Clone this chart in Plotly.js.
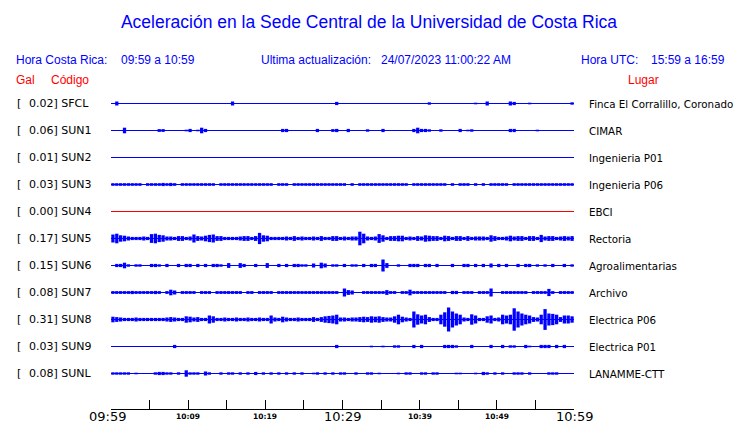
<!DOCTYPE html>
<html><head><meta charset="utf-8">
<script src="https://cdn.plot.ly/plotly-3.0.1.min.js"></script>
<style>html,body{margin:0;padding:0;background:#fff}#chart{width:740px;height:423px}</style>
</head><body><div id="chart"></div>
<script>
// ---------------- DATA ----------------
const titleText = 'Aceleración en la Sede Central de la Universidad de Costa Rica';
const localRange = '09:59 a 10:59';
const utcRange = '15:59 a 16:59';
const lastUpdate = '24/07/2023 11:00:22 AM';
const stations = ['SFCL','SUN1','SUN2','SUN3','SUN4','SUN5','SUN6','SUN7','SUN8','SUN9','SUNL'];
const peakGal = [0.02,0.06,0.01,0.03,0.00,0.17,0.15,0.08,0.31,0.03,0.08];
const places = ['Finca El Corralillo, Coronado','CIMAR','Ingenieria P01','Ingenieria P06','EBCI','Rectoria','Agroalimentarias','Archivo','Electrica P06','Electrica P01','LANAMME-CTT'];
const inactiveStations = ['SUN4'];
const windowMinutes = 60;        // 09:59 -> 10:59
const binMinutes = 0.5;          // envelope window (30 s)
const tickMinutes = [0,5,10,15,20,25,30,35,40,45,50,55,60];
const labelMinutes = [0,10,20,30,40,50,60];
const tickLabels = ['09:59','10:09','10:19','10:29','10:39','10:49','10:59'];

// amplitude envelope (half peak-to-peak, Gal) for each 30 s window
const envSFCL = [
0,0.05,0,0,0,0,0,0,0,0, 0,0,0,0,0,0,0,0,0,0, 0,0,0,0,0,0,0,0,0,0, 0,0.05,0,0,0,0,0,0,0,0,
0,0,0,0,0,0,0,0,0,0, 0,0,0,0,0,0,0,0,0.04,0, 0,0,0,0,0,0,0,0,0,0, 0,0,0,0,0,0,0,0,0,0,
0,0,0.03,0,0,0,0,0,0,0, 0,0,0,0,0.02,0,0,0.05,0,0, 0,0,0,0.05,0.04,0,0,0,0.02,0, 0,0,0,0,0,0,0,0,0,0.03];
const envSUN1 = [
0,0,0,0.07,0,0,0,0,0,0, 0,0,0.035,0.035,0,0,0,0,0,0.02, 0.04,0,0.02,0.07,0.04,0,0,0,0,0, 0,0,0,0,0,0,0,0,0,0,
0,0,0,0,0.04,0.04,0,0,0,0, 0,0,0,0.04,0,0,0,0.035,0.04,0, 0,0.04,0,0,0,0,0.03,0,0,0, 0.04,0,0,0,0,0,0,0,0.04,0.07,
0.04,0.04,0.03,0,0,0.03,0,0,0,0, 0.04,0,0.02,0.03,0,0,0,0,0,0, 0,0,0,0.04,0.04,0,0,0,0,0, 0.02,0,0,0,0,0,0,0,0,0];
const envSUN2 = [
0,0,0,0,0,0,0,0,0,0, 0,0,0,0,0,0,0,0,0,0, 0,0,0,0,0,0,0,0,0,0, 0,0,0,0,0,0,0,0,0,0,
0,0,0,0,0,0,0,0,0,0, 0,0,0,0,0,0,0,0,0,0, 0,0,0,0,0,0,0,0,0,0, 0,0,0,0,0,0,0,0,0,0,
0,0,0,0,0,0,0,0,0,0, 0,0,0,0,0,0,0,0,0,0, 0,0,0,0,0,0,0,0,0,0, 0,0,0,0,0,0,0,0,0,0];
const envSUN3 = [
.033,.033,.033,.033,.033,.033,.033,.033,0,.033, .033,.033,.033,.04,.033,.04,.033,0,.033,.033,
.033,.033,.033,.033,.033,.033,.033,0,.033,.033, .033,.033,.033,.033,.033,.033,.033,.033,.033,.033,
.033,.033,0,.033,.033,.033,0,.033,.033,.033, .033,.033,.033,.033,.033,.033,.033,.033,.033,.033,
.033,0,.033,0,.033,.033,.033,.033,.033,.033, .033,.033,.033,.033,.033,.033,.033,0,.033,.033,
.033,.033,.033,.033,.033,.033,.033,0,.033,0, .033,.033,.033,0,.033,0,.033,0,.033,.033,
.033,.033,.033,0,.033,.033,.033,.033,.033,.033, .033,.033,.033,.033,.033,.033,.033,.033,.033,.033];
const envSUN4 = [
0,0,0,0,0,0,0,0,0,0, 0,0,0,0,0,0,0,0,0,0, 0,0,0,0,0,0,0,0,0,0, 0,0,0,0,0,0,0,0,0,0,
0,0,0,0,0,0,0,0,0,0, 0,0,0,0,0,0,0,0,0,0, 0,0,0,0,0,0,0,0,0,0, 0,0,0,0,0,0,0,0,0,0,
0,0,0,0,0,0,0,0,0,0, 0,0,0,0,0,0,0,0,0,0, 0,0,0,0,0,0,0,0,0,0, 0,0,0,0,0,0,0,0,0,0];
const envSUN5 = [
.10,.12,.08,.07,.05,.04,.04,.04,.05,.04, .11,.12,.09,.08,.05,.05,.04,.06,.06,.04,
.05,.10,.06,.05,.07,.09,.10,.06,.06,.04, .04,.04,.04,.05,.06,.06,.04,.06,.14,.08,
.07,.04,.04,.04,.04,.05,.04,.06,.04,.05, .04,.04,.05,.04,.06,.04,.04,.06,.06,.04,
.05,.04,.05,.05,.17,.12,.05,.04,.05,.11, .08,.04,.06,.06,.07,.07,.04,.05,.04,.06,
.05,.08,.07,.06,.06,.04,.07,.06,.04,.06, .06,.04,.06,.04,.05,.05,.05,.04,.08,.06,
.04,.04,.05,.07,.05,.06,.06,.04,.06,.06, .04,.09,.05,.06,.06,.04,.05,.06,.05,.06];
const envSUN6 = [
0,.04,.04,.07,.03,0,.03,.03,0,0, .04,.04,.03,0,.04,0,0,.04,0,.04,
.04,0,.04,0,.04,0,.04,.04,.03,0, .06,0,0,.06,.04,0,0,.04,0,0,
.06,0,0,.04,0,.04,0,.04,.04,.03, .03,0,.05,0,.07,.05,0,.03,.03,0,
.04,0,.03,.03,0,.04,0,.04,.04,0, .15,.06,0,0,.03,0,0,.04,.04,.04,
0,.04,.04,0,.04,0,0,0,.04,0, 0,.04,.04,0,.04,0,.04,0,.05,0,
.04,0,.04,0,0,.04,0,.04,.04,0, .03,0,.03,0,.04,0,0,.04,0,.03];
const envSUN7 = [
.035,.035,.035,.035,.035,.04,.035,.035,.035,.035, .035,.04,.035,0,.035,.07,.05,0,.035,.035,
.035,.035,0,.035,.035,.035,0,.035,.035,.035, .035,.035,.035,.035,0,.035,.035,0,.035,.035,
.035,.035,0,.035,.035,.035,.035,.035,.035,.035, .035,.035,.035,.035,.035,.035,.035,.035,.035,0,
.10,.06,.05,0,0,.035,.035,.035,.035,.035, .035,.06,.035,.035,0,.035,.035,.07,.035,.035,
.035,.035,.035,.035,.035,.035,.035,0,.04,.04, 0,.035,.035,.035,0,.035,.035,.035,.10,0,
0,.035,.035,.035,.035,.035,.035,.035,0,.035, .035,.035,.035,.09,.035,0,.035,.035,.035,.035];
const envSUN8 = [
.07,.06,.05,.04,.04,.04,.05,.04,.04,.04, .04,.04,.04,.04,.05,.06,.05,.04,.04,.08,
.07,.05,.06,.04,.04,.10,.08,.04,.04,.05, .04,.04,.05,.04,.04,.05,.04,.04,.05,.04,
.04,.10,.05,.04,.07,.05,.04,.04,.05,.04, .04,.04,.06,.04,.06,.08,.09,.10,.12,.05,
.05,.04,.05,.05,.06,.07,.06,.08,.07,.08, .06,.05,.05,.08,.12,.07,.05,.04,.20,.13,
.10,.12,.06,.04,.04,.12,.18,.30,.20,.15, .12,.05,.04,.13,.10,.04,.04,.08,.10,.04,
.05,.12,.10,.12,.28,.20,.15,.12,.10,.06, .05,.12,.26,.15,.14,.12,.06,.10,.10,.08];
const envSUN9 = [
0,0,0,0,0,0,0,0,0,0, 0,0,0,0,0,0,.04,0,0,0, 0,0,0,0,0,0,0,0,0,0, 0,0,0,0,0,0,0,0,0,0,
0,0,0,0,0,0,0,0,0,0, 0,0,0,0,0,0,0,0,.04,0, 0,0,0,0,0,0,0,.02,0,0, .02,0,0,.03,.03,0,0,0,.04,0,
.04,0,0,0,0,0,.04,.04,.04,.03, 0,0,0,.04,0,0,0,0,.04,0, 0,.04,0,.03,.03,0,0,.04,.02,0, 0,.04,.04,.04,0,.04,0,.04,0,0];
const envSUNL = [
.03,.03,.03,.03,.03,0,.02,0,0,0, 0,.03,.04,.04,.03,.03,0,.03,0,.08,
.03,.03,.03,0,.05,.03,0,0,.03,0, .03,.03,0,.03,0,.03,0,.04,0,.03,
0,.03,0,.03,0,.03,0,.03,0,.03, 0,0,.02,.03,0,.03,0,.03,0,.03,
.03,0,0,.03,0,0,.03,.03,0,.02, 0,0,0,0,.02,0,.03,.03,0,0,
.03,.03,0,.03,.03,0,0,0,0,.02, .02,0,0,0,.02,0,.04,.03,0,.03,
0,.03,0,0,.03,.03,.03,0,.03,0, 0,0,0,.03,.03,.03,0,0,0,0];
const envelopes = [envSFCL,envSUN1,envSUN2,envSUN3,envSUN4,envSUN5,envSUN6,envSUN7,envSUN8,envSUN9,envSUNL];

// ---------------- LAYOUT / STYLE ----------------
const W = 740, H = 423;
const M = {l:111, r:166, t:90, b:14};
const PW = W - M.l - M.r, PH = H - M.t - M.b;
const pxPerGal = 40, rowPx = 27, firstRowPx = 13.5;
const rowStep = rowPx / pxPerGal;
const yTop = firstRowPx / pxPerGal, yBot = yTop - PH / pxPerGal;
const BLUE = '#0000ff', RED = '#ff0000';
const px2x = px => (px - M.l) / PW;
const px2y = py => (H - M.b - py) / PH;

const traces = [];
const annotations = [];
stations.forEach((st, i) => {
  const off = -i * rowStep;
  const col = inactiveStations.includes(st) ? RED : BLUE;
  const env = envelopes[i];
  traces.push({type:'scatter', mode:'lines', x:[0, windowMinutes], y:[off, off],
    line:{color:col, width:1}, hoverinfo:'skip', showlegend:false});
  traces.push({type:'bar', x: env.map((_, k) => (k + 0.5) * binMinutes),
    y: env.map(a => 2 * a), base: env.map(a => off - a), width: binMinutes * 0.85,
    marker:{color:col, line:{width:0}}, hoverinfo:'skip', showlegend:false});
  const ly = off;
  annotations.push({xref:'paper', yref:'y', x:px2x(15), y:ly, xanchor:'left', yanchor:'middle',
    text:'[', showarrow:false, font:{family:'DejaVu Sans', size:11, color:'#000'}});
  annotations.push({xref:'paper', yref:'y', x:px2x(27), y:ly, xanchor:'left', yanchor:'middle',
    text: peakGal[i].toFixed(2) + '] ' + st, showarrow:false, font:{family:'DejaVu Sans', size:11, color:'#000'}});
  annotations.push({xref:'paper', yref:'y', x:px2x(587), y:ly, xanchor:'left', yanchor:'middle',
    text: places[i], showarrow:false, font:{family:'DejaVu Sans', size:10.3, color:'#000'}});
});

const hdr = (txt, px, py, color) => annotations.push({xref:'paper', yref:'paper', x:px2x(px), y:px2y(py),
  xanchor:'left', yanchor:'middle', text:txt, showarrow:false, font:{family:'Liberation Sans', size:12, color:color}});
hdr('Hora Costa Rica:', 14, 60, BLUE);
hdr(localRange, 119, 60, BLUE);
hdr('Ultima actualización:', 259, 60, BLUE);
hdr(lastUpdate, 379, 60, BLUE);
hdr('Hora UTC:', 579, 60, BLUE);
hdr(utcRange, 649, 60, BLUE);
hdr('Gal', 14, 80, RED);
hdr('Código', 49, 80, RED);
hdr('Lugar', 626, 80, RED);

labelMinutes.forEach((m, j) => {
  const major = (m % 30 === 0);
  annotations.push({xref:'x', yref:'paper', x:m, y:px2y(416.5), xanchor:'center', yanchor:'middle',
    xshift: j === 0 ? -4 : 0, text: tickLabels[j], showarrow:false, borderpad:0,
    font: major ? {family:'DejaVu Sans', size:13, color:'#000'} : {family:'DejaVu Sans', size:7.5, color:'#000', weight:'bold'}});
});

const layout = {
  width:W, height:H, margin:M, paper_bgcolor:'#fff', plot_bgcolor:'#fff',
  title:{text:titleText, font:{family:'Liberation Sans', size:17.5, color:BLUE},
    xref:'container', yref:'container', x:369/W, y:1 - 22/H, xanchor:'center', yanchor:'middle'},
  barmode:'overlay', showlegend:false,
  xaxis:{range:[0, windowMinutes], tickmode:'array', tickvals:tickMinutes, ticktext:tickMinutes.map(()=>''),
    ticks:'inside', ticklen:9, tickwidth:1, tickcolor:'#000', showline:true, linecolor:'#000', linewidth:1,
    showgrid:false, zeroline:false, showticklabels:false, fixedrange:true},
  yaxis:{range:[yBot, yTop], visible:false, fixedrange:true},
  annotations: annotations
};
Plotly.newPlot('chart', traces, layout, {displayModeBar:false, staticPlot:true});
</script>
</body></html>
